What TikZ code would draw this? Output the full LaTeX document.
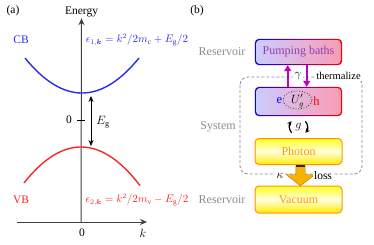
\documentclass[tikz,border=0pt]{standalone}
\usepackage{amsmath}
\usepackage{fontspec}
\setmainfont{Liberation Serif}
\usepackage{tikz}
\usetikzlibrary{arrows.meta,shapes.arrows,backgrounds}
\definecolor{cbblue}{HTML}{2A2AF2}
\definecolor{vbred}{HTML}{F52828}
\definecolor{pumpviolet}{HTML}{9040B0}
\definecolor{gammamag}{HTML}{C000C8}
\definecolor{photonorange}{HTML}{FF9A00}
\definecolor{arroworange}{HTML}{F5B400}
\definecolor{resgray}{HTML}{8C8C8C}
\definecolor{pinkfill}{HTML}{FA9CB4}

\begin{document}
\begin{tikzpicture}[x=1pt, y=1pt,
  lbl/.style={font=\fontsize{11.5}{13}\selectfont, inner sep=1pt},
  side/.style={text=resgray, font=\fontsize{12}{14}\selectfont, inner sep=1pt},
  axis/.style={black!75, line width=1pt, -{Stealth[length=7pt,width=6pt]}},
  band/.style={line width=1.4pt, samples=50},
  ehbox/.style={rounded corners=3pt, minimum width=84.6pt, inner sep=0pt,
    left color=blue!20, right color=pinkfill},
  ehrim/.style={left color=blue, right color=red, rounded corners=4.2pt},
  ybox/.style={draw=orange!85!yellow, line width=1pt, rounded corners=4pt,
    minimum width=87pt, minimum height=26pt, top color=yellow!85,
    bottom color=yellow!85!orange, middle color=yellow!12, text=photonorange,
    font=\fontsize{12}{14}\selectfont},
  pumparrow/.style={gammamag, line width=1.6pt, -{Triangle[length=6pt,width=7pt]}},
  turn/.style={black, line width=1.2pt, -{Stealth[length=4.5pt,width=4.5pt]}},
  cutlbl/.style={fill=white, inner sep=1.5pt}]
\useasboundingbox (0,0) rectangle (374,244);
% (a) band structure
\node[lbl] (tagA) at (13,233) {(a)};
\node[lbl] (energy) at (81.5,232) {Energy};
\coordinate (kstart) at (17,22);
\coordinate (kend) at (147,22);
\coordinate (origin) at (81,22);
\draw[axis] (kstart) -- (kend);
\draw[axis] (origin) -- (energy.south);
\node[lbl] (kzero) at (82,11) {0};
\node[lbl] (klab) at (143,11) {$k$};
\draw[black, line width=1pt] (77,124) -- (85,124);
\node[lbl] (ezero) at (69,124) {0};
\draw[band, cbblue, domain=25:139] plot (\x, {151+0.01077*(\x-82)^2});
\draw[band, vbred, domain=24:140] plot (\x, {97-0.01108*(\x-81)^2});
\coordinate (egtop) at (91,148);
\coordinate (egbot) at (91,98);
\draw[black, line width=0.8pt, {Stealth[length=6pt,width=5pt]}-{Stealth[length=6pt,width=5pt]}] (egtop) -- (egbot);
\node[lbl] (eg) at (103,122) {$E_{\mathrm{g}}$};
\node[lbl, text=cbblue] (cb) at (21,204) {CB};
\node[lbl, text=vbred] (vb) at (21,44) {VB};
\node[lbl, text=cbblue, font=\fontsize{10.5}{12}\selectfont] (cbform) at (137,204) {$\epsilon_{1,\boldsymbol{k}}=k^2/2m_{\mathrm{c}}+E_{\mathrm{g}}/2$};
\node[lbl, text=vbred, font=\fontsize{10.5}{12}\selectfont] (vbform) at (137,44) {$\epsilon_{2,\boldsymbol{k}}=k^2/2m_{\mathrm{v}}-E_{\mathrm{g}}/2$};
% (b) reservoirs and system
\node[lbl] (tagB) at (197,233) {(b)};
\draw[resgray, line width=0.8pt, dash pattern=on 3pt off 2pt, rounded corners=8pt] (240,167) rectangle (362,70);
\node[ehbox, minimum height=23.6pt, text=pumpviolet, font=\fontsize{12}{14}\selectfont] (pump) at (298.5,192) {Pumping baths};
\node[ehbox, minimum height=26.6pt] (eh) at (298.5,142.5) {};
\begin{scope}[on background layer]
  \shade[ehrim] ([shift={(-1.2pt,-1.2pt)}]pump.south west) rectangle ([shift={(1.2pt,1.2pt)}]pump.north east);
  \shade[ehrim] ([shift={(-1.2pt,-1.2pt)}]eh.south west) rectangle ([shift={(1.2pt,1.2pt)}]eh.north east);
\end{scope}
\node[ybox] (photon) at (298.5,92.5) {Photon};
\node[ybox, minimum height=27pt] (vacuum) at (298.5,44.5) {Vacuum};
\node[side] (resTop) at (222,192) {Reservoir};
\node[side] (system) at (218,117) {System};
\node[side] (resBot) at (222,44) {Reservoir};
\node[font=\fontsize{12.5}{14}\selectfont, text=blue, inner sep=0pt] (elec) at (279.5,143) {e};
\node[font=\fontsize{12.5}{14}\selectfont, text=red, inner sep=0pt] (hole) at (316.5,143) {h};
\node[lbl] (coul) at (297.5,143) {$U'_g$};
\draw[black, line width=0.7pt, dotted] (297.5,144) ellipse [x radius=14.5pt, y radius=9pt];
\draw[pumparrow] ([xshift=-10.8pt, yshift=1.2pt]eh.north) -- ([xshift=-10.8pt, yshift=-1.2pt]pump.south);
\draw[pumparrow] ([xshift=8.2pt, yshift=-1.2pt]pump.south) -- ([xshift=8.2pt, yshift=1.2pt]eh.north);
\node[lbl, cutlbl] (gamma) at (298,168) {$\gamma$};
\node[cutlbl, font=\fontsize{10.5}{12}\selectfont] (therm) at (338.5,168) {thermalize};
\node[lbl] (coup) at (298.5,117) {$g$};
\draw[turn] (coup.center) ++(220:9pt) arc[start angle=220, end angle=140, radius=9pt];
\draw[turn] (coup.center) ++(40:9pt) arc[start angle=40, end angle=-40, radius=9pt];
\node[single arrow, shape border rotate=270, fill=arroworange, draw=orange!80!black,
  line width=0.4pt, inner sep=4.5pt, minimum height=20pt, single arrow head extend=9.5pt,
  single arrow tip angle=104] (lossarr) at (300.5,70) {};
\draw[black!85, line width=1.8pt] (lossarr.before tail) -- (lossarr.after tail);
\node[lbl, cutlbl] (kappa) at (280,68) {$\kappa$};
\node[lbl, cutlbl] (loss) at (323,68) {loss};
\end{tikzpicture}
\end{document}
